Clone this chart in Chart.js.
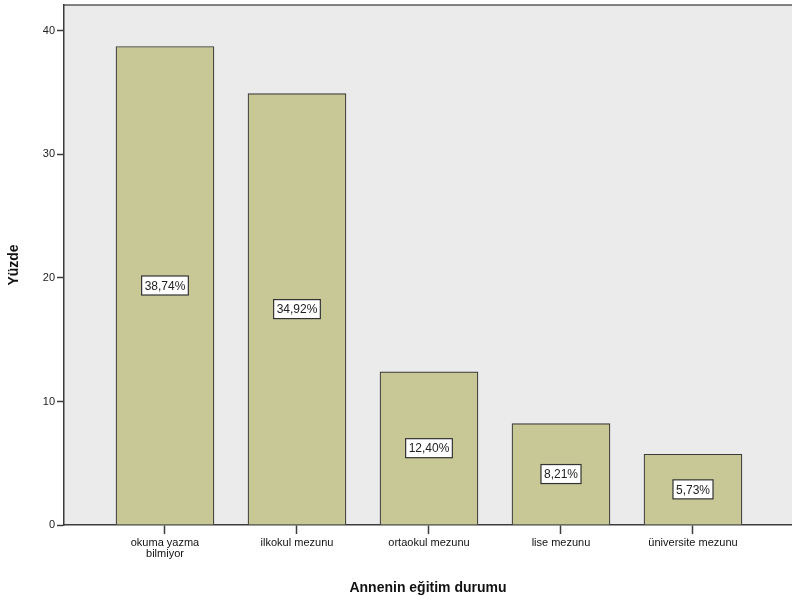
<!DOCTYPE html>
<html>
<head>
<meta charset="utf-8">
<script src="https://cdn.jsdelivr.net/npm/chart.js@4"></script>
<style>
  html, body { margin: 0; padding: 0; background: #ffffff; }
  #wrap { width: 792px; height: 605px; }
</style>
</head>
<body>
<div id="wrap"><canvas id="chartBar" width="792" height="605"></canvas></div>
<script>
var categories = ["okuma yazma bilmiyor", "ilkokul mezunu", "ortaokul mezunu", "lise mezunu", "üniversite mezunu"];
var tickLabels = [["okuma yazma", "bilmiyor"], "ilkokul mezunu", "ortaokul mezunu", "lise mezunu", "üniversite mezunu"];
var percents = [38.74, 34.92, 12.40, 8.21, 5.73];
var yTicks = [0, 10, 20, 30, 40];

var barColour = "#c8c897";
var plotBg = "#ebebeb";
var axisColour = "#3c3c3c";

// bars sit on a linear x scale so the side margins can match the original
var points = [];
for (var i = 0; i < percents.length; i++) {
  points.push({x: i + 1, y: percents[i]});
}

/* gray plot frame behind the bars */
var frameBg = {
  id: "frameBg",
  beforeDraw: function(chart) {
    var a = chart.chartArea;
    var ctx = chart.ctx;
    ctx.save();
    ctx.fillStyle = plotBg;
    ctx.fillRect(a.left, a.top, a.right - a.left, a.bottom - a.top);
    ctx.strokeStyle = "#5a5a5a";
    ctx.lineWidth = 1.5;
    ctx.beginPath();
    ctx.moveTo(a.left, a.top);
    ctx.lineTo(a.right, a.top);
    ctx.stroke();
    ctx.restore();
  }
};

/* white percentage boxes in the middle of each bar */
var valueBoxes = {
  id: "valueBoxes",
  afterDatasetsDraw: function(chart) {
    var ctx = chart.ctx;
    var meta = chart.getDatasetMeta(0);
    ctx.save();
    ctx.font = "12px 'Liberation Sans', Arial, sans-serif";
    ctx.textAlign = "center";
    ctx.textBaseline = "middle";
    meta.data.forEach(function(bar, k) {
      var text = percents[k].toFixed(2).replace(".", ",") + "%";
      var cy = (bar.y + bar.base) / 2;
      var w = ctx.measureText(text).width + 6;
      var h = 19;
      ctx.fillStyle = "#ffffff";
      ctx.fillRect(bar.x - w / 2, cy - h / 2, w, h);
      ctx.strokeStyle = "#333333";
      ctx.lineWidth = 1.2;
      ctx.strokeRect(bar.x - w / 2, cy - h / 2, w, h);
      ctx.fillStyle = "#222222";
      ctx.fillText(text, bar.x, cy + 1);
    });
    ctx.restore();
  }
};

var ctx = document.getElementById("chartBar").getContext("2d");
var chart = new Chart(ctx, {
  type: "bar",
  data: {
    labels: categories,
    datasets: [{
      data: points,
      backgroundColor: barColour,
      borderColor: "#3a3a3a",
      borderWidth: 1.2,
      barThickness: 98
    }]
  },
  options: {
    responsive: false,
    animation: false,
    layout: { padding: { top: 5, right: 0, left: 0, bottom: 0 } },
    plugins: {
      legend: { display: false },
      tooltip: { enabled: false }
    },
    scales: {
      x: {
        type: "linear",
        offset: false,
        min: 0.235,
        max: 5.75,
        afterFit: function(scale) { scale.height = 80; },
        afterBuildTicks: function(scale) {
          scale.ticks = tickLabels.map(function(t, k) { return {value: k + 1}; });
        },
        ticks: {
          autoSkip: false,
          maxRotation: 0,
          padding: 3,
          color: "#111111",
          font: { family: "'Liberation Sans', Arial, sans-serif", size: 11, lineHeight: 1.0 },
          callback: function(value) { return tickLabels[value - 1]; }
        },
        grid: {
          offset: false,
          drawOnChartArea: false,
          drawTicks: true,
          tickLength: 9,
          tickColor: axisColour,
          tickWidth: 1.5
        },
        border: { color: axisColour, width: 1.5 },
        title: {
          display: true,
          text: "Annenin eğitim durumu",
          color: "#111111",
          font: { family: "'Liberation Sans', Arial, sans-serif", size: 14, weight: "bold" },
          padding: { top: 4, bottom: 8 }
        }
      },
      y: {
        min: 0,
        max: 42.1,
        afterFit: function(scale) {
          scale.width = 64;
          scale.paddingTop = 0;
        },
        afterBuildTicks: function(scale) {
          scale.ticks = yTicks.map(function(v) { return {value: v}; });
        },
        ticks: {
          padding: 2,
          color: "#222222",
          font: { family: "'Liberation Sans', Arial, sans-serif", size: 11 }
        },
        grid: {
          drawOnChartArea: false,
          drawTicks: true,
          tickLength: 7,
          tickColor: axisColour,
          tickWidth: 1.5
        },
        border: { color: axisColour, width: 1.5 },
        title: {
          display: true,
          text: "Yüzde",
          color: "#111111",
          font: { family: "'Liberation Sans', Arial, sans-serif", size: 14, weight: "bold" },
          padding: { top: 6, bottom: 0 }
        }
      }
    }
  },
  plugins: [frameBg, valueBoxes]
});
</script>
</body>
</html>
